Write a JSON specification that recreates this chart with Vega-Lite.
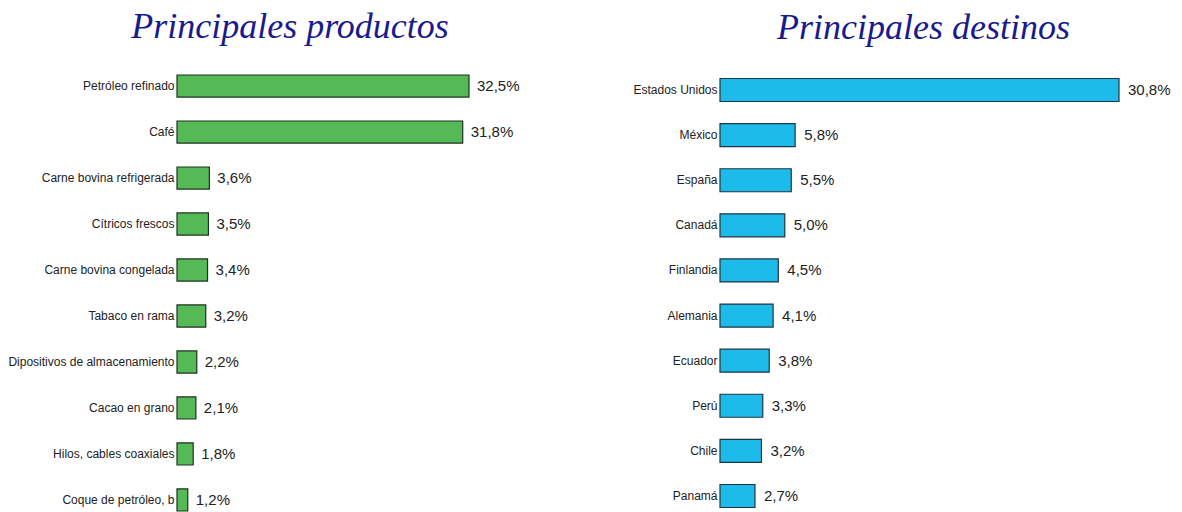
{
  "$schema": "https://vega.github.io/schema/vega-lite/v6.json",
  "padding": {"top": 9, "left": 0, "right": 0, "bottom": 0},
  "background": "white",
  "bounds": "flush",
  "spacing": 251,
  "datasets": {
    "productos": [
      {"producto": "Petróleo refinado", "pct": 32.5, "label": "32,5%"},
      {"producto": "Café", "pct": 31.8, "label": "31,8%"},
      {"producto": "Carne bovina refrigerada", "pct": 3.6, "label": "3,6%"},
      {"producto": "Cítricos frescos", "pct": 3.5, "label": "3,5%"},
      {"producto": "Carne bovina congelada", "pct": 3.4, "label": "3,4%"},
      {"producto": "Tabaco en rama", "pct": 3.2, "label": "3,2%"},
      {"producto": "Dipositivos de almacenamiento", "pct": 2.2, "label": "2,2%"},
      {"producto": "Cacao en grano", "pct": 2.1, "label": "2,1%"},
      {"producto": "Hilos, cables coaxiales", "pct": 1.8, "label": "1,8%"},
      {"producto": "Coque de petróleo, b", "pct": 1.2, "label": "1,2%"}
    ],
    "destinos": [
      {"destino": "Estados Unidos", "pct": 30.8, "label": "30,8%"},
      {"destino": "México", "pct": 5.8, "label": "5,8%"},
      {"destino": "España", "pct": 5.5, "label": "5,5%"},
      {"destino": "Canadá", "pct": 5.0, "label": "5,0%"},
      {"destino": "Finlandia", "pct": 4.5, "label": "4,5%"},
      {"destino": "Alemania", "pct": 4.1, "label": "4,1%"},
      {"destino": "Ecuador", "pct": 3.8, "label": "3,8%"},
      {"destino": "Perú", "pct": 3.3, "label": "3,3%"},
      {"destino": "Chile", "pct": 3.2, "label": "3,2%"},
      {"destino": "Panamá", "pct": 2.7, "label": "2,7%"}
    ]
  },
  "hconcat": [
    {
      "title": {"text": "Principales productos", "font": "Liberation Serif", "fontStyle": "italic", "fontWeight": "normal", "fontSize": 36, "color": "#1a1a8c", "anchor": "middle", "frame": "group", "dx": -33, "offset": 28},
      "width": 292,
      "height": 436,
      "data": {"name": "productos"},
      "encoding": {
        "y": {"field": "producto", "type": "nominal", "sort": {"field": "pct", "order": "descending"},
          "scale": {"paddingInner": 0.52, "paddingOuter": 0},
          "axis": {"title": null, "ticks": false, "domain": false, "labelFont": "Liberation Sans", "labelFontSize": 12, "labelColor": "#222", "labelPadding": 3, "minExtent": 177, "maxExtent": 177, "labelLimit": 0}}
      },
      "layer": [
        {"mark": {"type": "bar", "color": "#55b955", "stroke": "#1d3320", "strokeWidth": 1.2},
         "encoding": {"x": {"field": "pct", "type": "quantitative", "scale": {"domain": [0, 32.5], "nice": false}, "axis": null}}},
        {"mark": {"type": "text", "align": "left", "dx": 8, "font": "Liberation Sans", "fontSize": 15, "color": "#222"},
         "encoding": {"x": {"field": "pct", "type": "quantitative"}, "text": {"field": "label"}}}
      ]
    },
    {
      "title": {"text": "Principales destinos", "font": "Liberation Serif", "fontStyle": "italic", "fontWeight": "normal", "fontSize": 36, "color": "#1a1a8c", "anchor": "middle", "frame": "group", "dx": 4, "offset": 28},
      "width": 399,
      "height": 436,
      "data": {"name": "destinos"},
      "encoding": {
        "y": {"field": "destino", "type": "nominal", "sort": {"field": "pct", "order": "descending"},
          "scale": {"paddingInner": 0.49, "paddingOuter": 0.078},
          "axis": {"title": null, "ticks": false, "domain": false, "labelFont": "Liberation Sans", "labelFontSize": 12, "labelColor": "#222", "labelPadding": 3, "labelLimit": 0}}
      },
      "layer": [
        {"mark": {"type": "bar", "color": "#1dbbeb", "stroke": "#1f3540", "strokeWidth": 1.2},
         "encoding": {"x": {"field": "pct", "type": "quantitative", "scale": {"domain": [0, 30.8], "nice": false}, "axis": null}}},
        {"mark": {"type": "text", "align": "left", "dx": 9, "font": "Liberation Sans", "fontSize": 15, "color": "#222"},
         "encoding": {"x": {"field": "pct", "type": "quantitative"}, "text": {"field": "label"}}}
      ]
    }
  ],
  "config": {"view": {"stroke": null}, "axis": {"grid": false}}
}
